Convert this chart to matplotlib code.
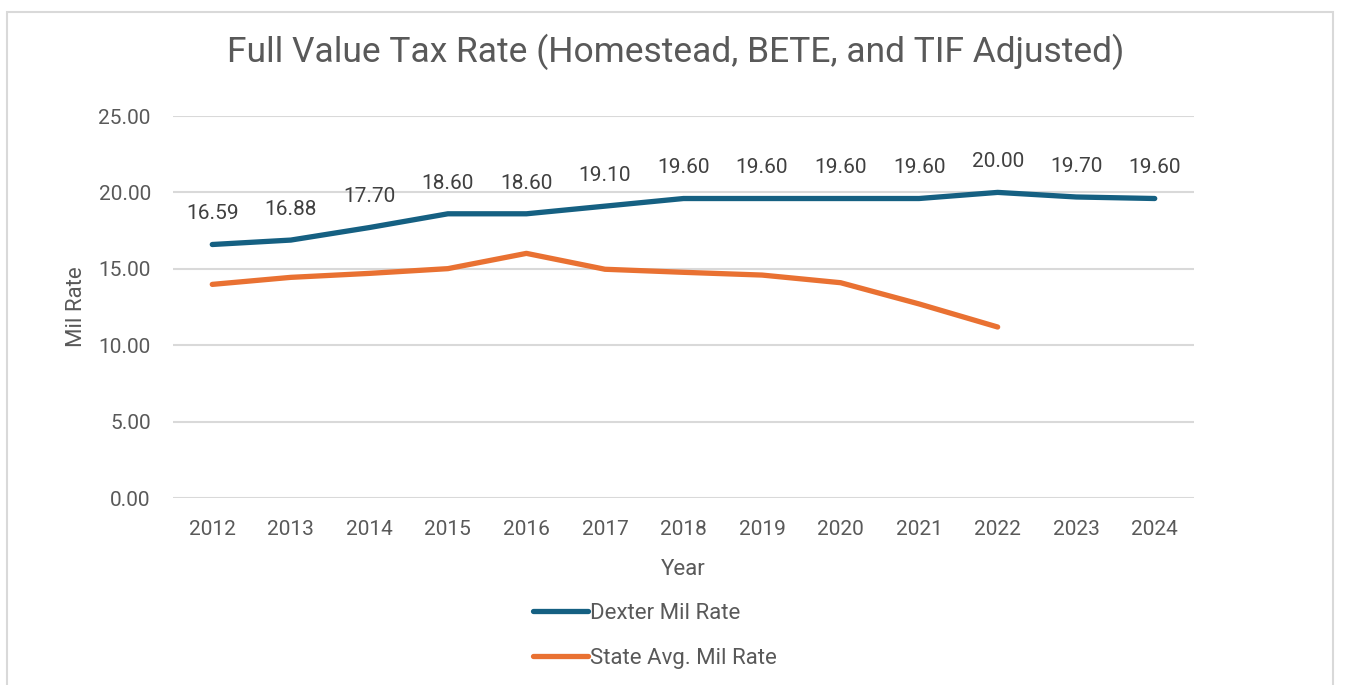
import matplotlib
matplotlib.use("Agg")
import matplotlib.pyplot as plt
from matplotlib.patches import Rectangle

years = ["2012", "2013", "2014", "2015", "2016", "2017", "2018",
         "2019", "2020", "2021", "2022", "2023", "2024"]
dexter_rate = [16.59, 16.88, 17.70, 18.60, 18.60, 19.10, 19.60,
               19.60, 19.60, 19.60, 20.00, 19.70, 19.60]
state_avg_rate = [13.98, 14.44, 14.70, 15.01, 16.01, 14.97, 14.77,
                  14.59, 14.09, 12.70, 11.19]
y_ticks = [0, 5, 10, 15, 20, 25]

title_text = "Full Value Tax Rate (Homestead, BETE, and TIF Adjusted)"
dexter_color = "#156082"
state_color = "#E97132"
text_color = "#595959"
grid_color = "#D9D9D9"

plt.rcParams["font.family"] = ["Roboto", "DejaVu Sans"]

fig = plt.figure(figsize=(13.47, 6.85), dpi=100)
fig.patch.set_facecolor("white")

# outer chart frame
fig.patches.append(Rectangle((7 / 1347, -0.05), (1333 - 7) / 1347, 1.05 - 12 / 685,
                             transform=fig.transFigure, fill=False,
                             edgecolor=grid_color, linewidth=1.5))

ax = fig.add_axes([173 / 1347, 187 / 685, (1194 - 173) / 1347, (498 - 116) / 685])
x_dexter = list(range(len(dexter_rate)))
x_state = list(range(len(state_avg_rate)))

ax.plot(x_dexter, dexter_rate, color=dexter_color, lw=3.8,
        solid_capstyle="round", solid_joinstyle="round", label="Dexter Mil Rate", zorder=3)
ax.plot(x_state, state_avg_rate, color=state_color, lw=3.8,
        solid_capstyle="round", solid_joinstyle="round", label="State Avg. Mil Rate", zorder=3)

for xi, v in zip(x_dexter, dexter_rate):
    ax.annotate(f"{v:.2f}", (xi, v), xytext=(0, 22), textcoords="offset points",
                ha="center", va="center", fontsize=15, color="#404040")

ax.set_xlim(-0.5, len(years) - 0.5)
ax.set_ylim(0, 25)
ax.set_yticks(y_ticks)
ax.set_yticklabels([f"{t:.2f}" for t in y_ticks])
ax.set_xticks(x_dexter)
ax.set_xticklabels(years)
ax.tick_params(axis="both", length=0, labelsize=15, labelcolor=text_color)
ax.tick_params(axis="y", pad=16)
ax.tick_params(axis="x", pad=16)
ax.grid(axis="y", color=grid_color, linewidth=1.5)
ax.set_axisbelow(True)
for s in ax.spines.values():
    s.set_visible(False)

ax.set_xlabel("Year", fontsize=16, color=text_color, labelpad=14)
ax.set_ylabel("Mil Rate", fontsize=16, color=text_color, labelpad=8)

fig.text(676 / 1347, 1 - 52 / 685, title_text, ha="center", va="center",
         fontsize=25.5, color=text_color)

leg = fig.legend(loc="center", bbox_to_anchor=(655 / 1347, 1 - 636 / 685), ncol=1,
                 frameon=False, fontsize=16, handlelength=2.5, handletextpad=0.1,
                 labelspacing=1.1)
for t in leg.get_texts():
    t.set_color(text_color)

fig.savefig("out.png", dpi=100, facecolor="white")
